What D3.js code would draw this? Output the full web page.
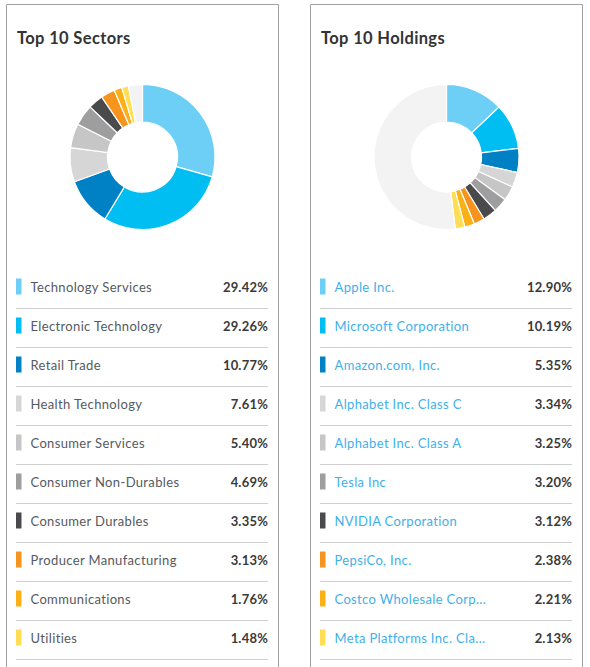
<!DOCTYPE html>
<html>
<head>
<meta charset="utf-8">
<script src="https://cdn.jsdelivr.net/npm/d3@7"></script>
<style>
  html, body { margin: 0; padding: 0; background: #fff; }
  svg { display: block; }
  text { font-family: Lato, "Open Sans", sans-serif; }
</style>
</head>
<body>
<svg id="chart" width="590" height="667"></svg>
<script>
// ---- Data ----
const sectorNames = ["Technology Services", "Electronic Technology", "Retail Trade", "Health Technology",
  "Consumer Services", "Consumer Non-Durables", "Consumer Durables", "Producer Manufacturing",
  "Communications", "Utilities"];
const sectorValues = [29.42, 29.26, 10.77, 7.61, 5.40, 4.69, 3.35, 3.13, 1.76, 1.48];

const holdingNames = ["Apple Inc.", "Microsoft Corporation", "Amazon.com, Inc.", "Alphabet Inc. Class C",
  "Alphabet Inc. Class A", "Tesla Inc", "NVIDIA Corporation", "PepsiCo, Inc.",
  "Costco Wholesale Corp...", "Meta Platforms Inc. Cla..."];
const holdingValues = [12.90, 10.19, 5.35, 3.34, 3.25, 3.20, 3.12, 2.38, 2.21, 2.13];

const panelTitles = ["Top 10 Sectors", "Top 10 Holdings"];

const palette = ["#6dcff6", "#00bef2", "#0081c6", "#d6d6d6", "#c6c6c6",
  "#9e9e9e", "#4a4a4d", "#f7941d", "#fbb016", "#ffdd55"];
const otherColor = "#f3f3f3";

// ---- Drawing ----
const svg = d3.select("#chart");

function drawPanel(x0, title, names, values, labelColor) {
  const g = svg.append("g");
  const w = 272;
  // border (open at bottom)
  g.append("path")
    .attr("d", `M${x0 + 0.5},700 V4.5 H${x0 + w + 0.5} V700`)
    .attr("fill", "none").attr("stroke", "#a3a3a3").attr("stroke-width", 1);

  g.append("text")
    .attr("x", x0 + 11).attr("y", 44)
    .attr("font-size", 16.5).attr("font-weight", 700).attr("fill", "#333")
    .attr("letter-spacing", 0.35)
    .text(title);

  // donut
  const total = d3.sum(values);
  const data = values.map((v, i) => ({ name: names[i], v, color: palette[i] }));
  data.push({ name: "Other", v: Math.max(0, 100 - total), color: otherColor });
  const pie = d3.pie().sort(null).value(d => d.v);
  const arc = d3.arc().innerRadius(35).outerRadius(72.5);
  const cx = x0 + 136.5, cy = 157;
  g.append("g").attr("transform", `translate(${cx},${cy})`)
    .selectAll("path").data(pie(data)).join("path")
    .attr("d", arc).attr("fill", d => d.data.color)
    .attr("stroke", "#fff").attr("stroke-width", 1.2);

  // legend rows
  const y = d3.scaleBand().domain(d3.range(names.length)).range([267.5, 657.5]);
  const left = x0 + 10, right = x0 + 262;
  const rows = g.append("g").selectAll("g").data(data.slice(0, names.length)).join("g")
    .attr("transform", (d, i) => `translate(0,${y(i)})`);
  rows.append("rect")
    .attr("x", left).attr("y", 11).attr("width", 5.5).attr("height", 16)
    .attr("fill", d => d.color);
  rows.append("text")
    .attr("x", left + 14.5).attr("y", 24)
    .attr("font-size", 13).attr("fill", labelColor)
    .attr("letter-spacing", 0.35)
    .text(d => d.name);
  rows.append("text")
    .attr("x", right).attr("y", 24).attr("text-anchor", "end")
    .attr("font-size", 13).attr("font-weight", 700).attr("fill", "#3a3a3a")
    .attr("letter-spacing", 0.2)
    .text(d => d.v.toFixed(2) + "%");
  rows.append("line")
    .attr("x1", left).attr("x2", right)
    .attr("y1", 41).attr("y2", 41)
    .attr("stroke", "#cfcfcf").attr("stroke-width", 1);
}

drawPanel(6, panelTitles[0], sectorNames, sectorValues, "#555a62");
drawPanel(310, panelTitles[1], holdingNames, holdingValues, "#3fb0ea");
</script>
</body>
</html>
